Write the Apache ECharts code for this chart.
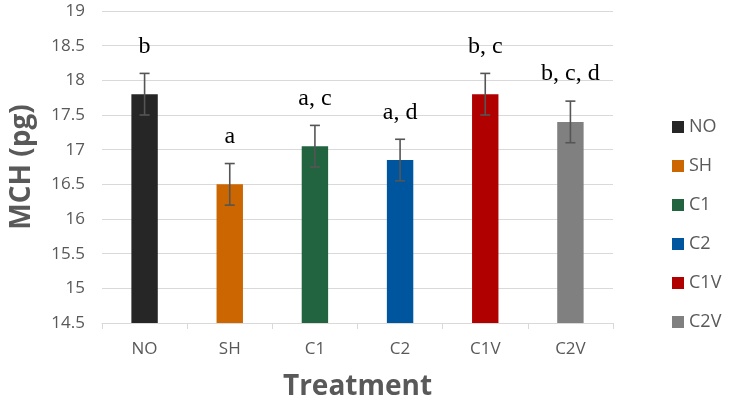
<!DOCTYPE html>
<html style="height: 100%">
<head>
	<meta charset="utf-8">
</head>
<body style="height: 100%; margin: 0; background: #fff">
<div id="container" style="width: 729px; height: 406px"></div>
<script src="https://cdn.jsdelivr.net/npm/echarts@6/dist/echarts.min.js"></script>
<script type="text/javascript">
	// data
	var categories = ['NO', 'SH', 'C1', 'C2', 'C1V', 'C2V'];
	var means = [17.8, 16.5, 17.05, 16.85, 17.8, 17.4];
	var errors = [0.3, 0.3, 0.3, 0.3, 0.3, 0.3];
	var letters = ['b', 'a', 'a, c', 'a, d', 'b, c', 'b, c, d'];
	var colors = ['#262626', '#cc6600', '#21643f', '#00559f', '#b00000', '#808080'];

	var dom = document.getElementById('container');
	var myChart = echarts.init(dom);

	var series = [];
	for (var i = 0; i < categories.length; i++) {
		var d = [];
		for (var j = 0; j < categories.length; j++) {
			d.push(j == i ? means[i] : '-');
		}
		series.push({
			name: categories[i],
			type: 'bar',
			stack: 'all',
			barWidth: '31%',
			itemStyle: {color: colors[i]},
			data: d
		});
	}

	var errData = [];
	for (var i = 0; i < categories.length; i++) {
		errData.push([i, means[i], errors[i], letters[i]]);
	}

	// error bars and significance letters
	series.push({
		type: 'custom',
		name: 'err',
		z: 10,
		data: errData,
		renderItem: function (params, api) {
			var x = api.value(0);
			var m = api.value(1);
			var e = api.value(2);
			var top = api.coord([x, m + e]);
			var bot = api.coord([x, m - e]);
			var cap = 5;
			var st = {stroke: '#555555', lineWidth: 1.6};
			return {
				type: 'group',
				children: [
					{type: 'line', shape: {x1: top[0], y1: top[1], x2: bot[0], y2: bot[1]}, style: st},
					{type: 'line', shape: {x1: top[0] - cap, y1: top[1], x2: top[0] + cap, y2: top[1]}, style: st},
					{type: 'line', shape: {x1: bot[0] - cap, y1: bot[1], x2: bot[0] + cap, y2: bot[1]}, style: st},
					{
						type: 'text',
						style: {
							x: top[0],
							y: top[1] - 27,
							text: letters[params.dataIndex],
							fill: '#000',
							font: '24px "Liberation Serif", serif',
							align: 'center',
							verticalAlign: 'middle'
						}
					}
				]
			};
		}
	});

	var option = {
		animation: false,
		backgroundColor: '#fff',
		grid: {left: 100, right: 116, top: 11, bottom: 82},
		legend: {
			data: categories,
			orient: 'vertical',
			left: 667,
			top: 113,
			itemWidth: 12,
			itemHeight: 12,
			itemGap: 21,
			icon: 'rect',
			textStyle: {color: '#595959', fontSize: 18, fontFamily: 'Open Sans'}
		},
		xAxis: {
			type: 'category',
			data: categories,
			name: 'Treatment',
			nameLocation: 'middle',
			nameGap: 50,
			nameTextStyle: {color: '#595959', fontSize: 28, fontWeight: 'bold', fontFamily: 'Open Sans'},
			axisLine: {lineStyle: {color: '#d9d9d9', width: 1}},
			axisTick: {show: true, length: 6, lineStyle: {color: '#d9d9d9'}},
			axisLabel: {color: '#595959', fontSize: 17, fontFamily: 'Open Sans', margin: 18}
		},
		yAxis: {
			type: 'value',
			min: 14.5,
			max: 19,
			interval: 0.5,
			name: 'MCH (pg)',
			nameLocation: 'middle',
			nameGap: 66,
			nameTextStyle: {color: '#595959', fontSize: 28, fontWeight: 'bold', fontFamily: 'Open Sans'},
			axisLine: {show: false},
			axisTick: {show: false},
			axisLabel: {color: '#595959', fontSize: 17, fontFamily: 'Open Sans', margin: 17},
			splitLine: {lineStyle: {color: '#d9d9d9', width: 1}}
		},
		series: series
	};

	myChart.setOption(option, true);
</script>
</body>
</html>
